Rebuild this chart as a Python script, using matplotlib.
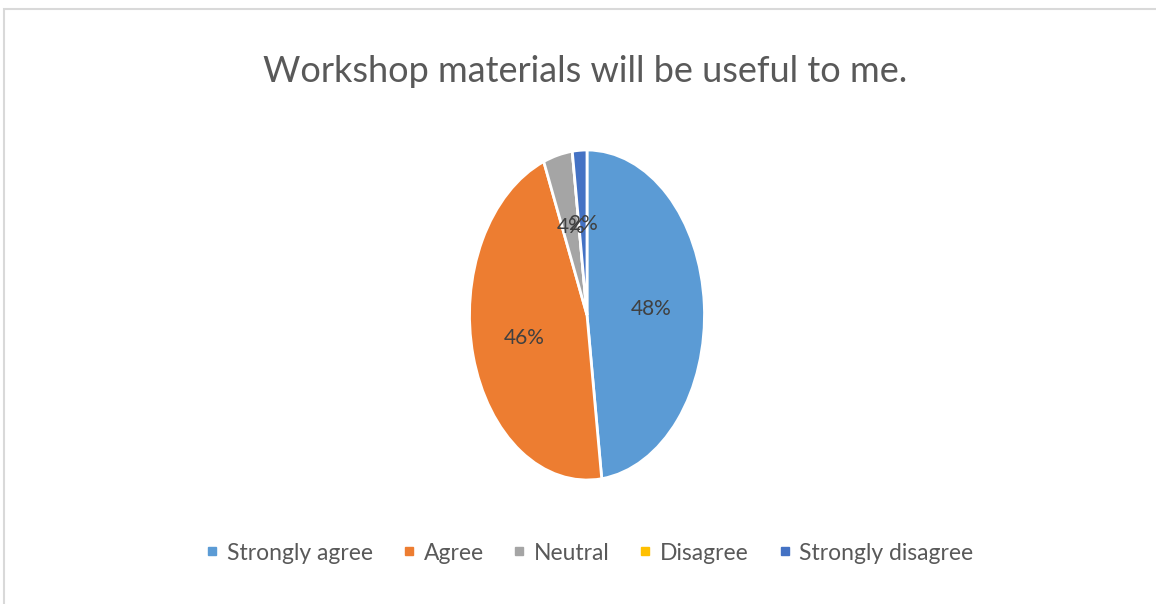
import matplotlib
matplotlib.use("Agg")
import matplotlib.pyplot as plt
from matplotlib.patches import Rectangle
from matplotlib.lines import Line2D

categories = ["Strongly agree", "Agree", "Neutral", "Disagree", "Strongly disagree"]
values = [48, 46, 4, 0, 2]
colors = ["#5B9BD5", "#ED7D31", "#A5A5A5", "#FFC000", "#4472C4"]
title = "Workshop materials will be useful to me."

plt.rcParams['font.family'] = ['Lato', 'DejaVu Sans']

fig = plt.figure(figsize=(11.56, 6.04), dpi=100)
fig.patch.set_facecolor("white")

# chart border (light gray)
fig.patches.append(Rectangle((4/1156, -0.05), 1.2, (604-9)/604 + 0.05,
                             transform=fig.transFigure, fill=False,
                             edgecolor="#D9D9D9", linewidth=1.5))

ax = fig.add_axes([469.5/1156, (604-480)/604, 235/1156, 330/604])
wedges, texts, autotexts = ax.pie(
    values, colors=colors, startangle=90, counterclock=False,
    autopct=lambda p: f"{p:.0f}%" if p > 0 else "",
    pctdistance=0.55,
    wedgeprops=dict(edgecolor="white", linewidth=2),
    textprops=dict(color="#404040", fontsize=15))
ax.set_aspect('auto')
ax.set_xlim(-1, 1)
ax.set_ylim(-1, 1)
ax.axis('off')

fig.text(585/1156, 1 - 72/604, title, ha='center', va='center',
         fontsize=26, color="#595959")

handles = [Line2D([0], [0], marker='s', linestyle='None', markersize=6,
                  markerfacecolor=c, markeredgecolor=c) for c in colors]
fig.legend(handles, categories, loc='center', bbox_to_anchor=(590/1156, 1 - 553/604),
           ncol=5, frameon=False, fontsize=16.5, labelcolor="#595959",
           handlelength=0.5, handletextpad=0.4, columnspacing=1.3)

fig.savefig("out.png", dpi=100, facecolor="white")
